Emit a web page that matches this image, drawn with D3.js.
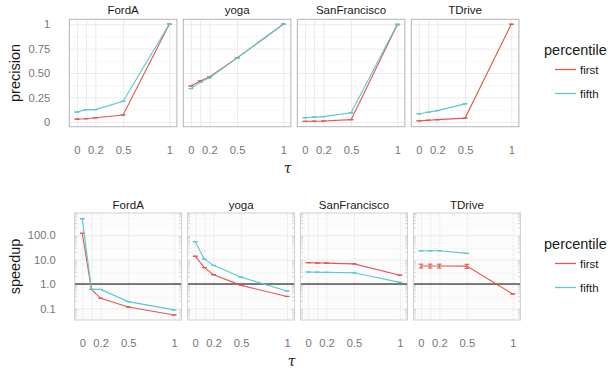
<!DOCTYPE html>
<html>
<head>
<meta charset="utf-8">
<script src="https://cdn.jsdelivr.net/npm/d3@7"></script>
<style>
  html, body { margin: 0; padding: 0; background: #fff; }
  svg { display: block; font-family: "Liberation Sans", Arial, Helvetica, sans-serif; }
</style>
</head>
<body>
<svg id="chart" width="608" height="372"></svg>
<script>
// ---- data ----
const datasets = ["FordA", "yoga", "SanFrancisco", "TDrive"];
const tauValues = [0, 0.1, 0.2, 0.5, 1];
const tauTickValues = [0, 0.2, 0.5, 1];
const percentiles = ["first", "fifth"];
const precisionTicks = [0, 0.25, 0.5, 0.75, 1];
const precisionTickLabels = ["0", "0.25", "0.50", "0.75", "1"];
const speedupTicks = [0.1, 1, 10, 100];
const speedupTickLabels = ["0.1", "1.0", "10.0", "100.0"];

// precision per dataset (rows follow `datasets`, columns follow `tauValues`)
const precisionFirst = [
  [0.028, 0.032, 0.041, 0.070, 1.000],
  [0.367, 0.418, 0.460, 0.655, 1.000],
  [0.005, 0.006, 0.008, 0.022, 0.995],
  [0.010, 0.016, 0.022, 0.038, 1.000]
];
const precisionFifth = [
  [0.100, 0.125, 0.125, 0.210, 1.000],
  [0.340, 0.404, 0.450, 0.652, 1.000],
  [0.041, 0.048, 0.053, 0.092, 1.000],
  [0.082, 0.098, 0.115, 0.184, null]
];

// speedup per dataset
const speedupFirst = [
  [120, 0.60, 0.26, 0.115, 0.054],
  [13.8, 4.7, 2.4, 0.88, 0.31],
  [7.5, 7.3, 7.2, 6.7, 2.3],
  [5.5, 5.5, 5.5, 5.4, 0.39]
];
const speedupFifth = [
  [470, 0.60, 0.60, 0.19, 0.087],
  [54, 10.5, 5.8, 1.9, 0.52],
  [3.1, 3.05, 3.0, 2.9, 1.17],
  [23, 23, 23, 18, null]
];
// spread shown as error bars on speedup
const speedupFirstErr = [
  [0, 0, 0, 0, 0],
  [0, 0, 0, 0, 0],
  [0, 0, 0, 0, 0],
  [1.0, 1.0, 1.0, 1.0, 0]
];
const speedupFifthErr = [
  [0, 0, 0, 0, 0],
  [0, 0, 0, 0, 0],
  [0, 0, 0, 0, 0],
  [0, 0, 0, 0, 0]
];

// ---- styling ----
const colors = { first: "#E2584E", fifth: "#5CC8CF" };
const tickColor = "#767676";
const textColor = "#1a1a1a";
const capHalf = 0.025;           // error-bar cap half width in tau units
const xDomain = [-0.0825, 1.0825];

const svg = d3.select("#chart");

function drawRow(cfg) {
  const { top, bottom, left0, step, width, yScaleMaker, yTicks, yTickLabels,
          first, fifth, firstErr, fifthErr, stripY, xLabelY, tauPos,
          title, legendY, logPanel } = cfg;

  datasets.forEach((name, i) => {
    const x0 = left0 + i * step;
    const x = d3.scaleLinear().domain(xDomain).range([x0, x0 + width]);
    const y = yScaleMaker([bottom, top]);
    const g = svg.append("g");

    // panel background
    g.append("rect").attr("x", x0).attr("y", top)
      .attr("width", width).attr("height", bottom - top)
      .attr("fill", logPanel ? "#fcfcfc" : "#ffffff");

    // minor horizontal grid
    let minor;
    if (logPanel) {
      minor = [0.3, 3, 30, 300].filter(v => y(v) > top && y(v) < bottom);
    } else {
      minor = [0.125, 0.375, 0.625, 0.875];
    }
    g.append("g")
      .attr("transform", `translate(${x0},0)`)
      .call(d3.axisLeft(y).tickValues(minor).tickSize(-width).tickFormat(""))
      .call(a => a.select(".domain").remove())
      .call(a => a.selectAll("line").attr("stroke", "#f2f2f2").attr("stroke-width", 0.6));

    // major horizontal grid
    g.append("g")
      .attr("transform", `translate(${x0},0)`)
      .call(d3.axisLeft(y).tickValues(yTicks).tickSize(-width).tickFormat(""))
      .call(a => a.select(".domain").remove())
      .call(a => a.selectAll("line").attr("stroke", "#ebebeb").attr("stroke-width", 1));

    // vertical grid at the tau values
    g.append("g")
      .attr("transform", `translate(0,${bottom})`)
      .call(d3.axisBottom(x).tickValues(tauValues).tickSize(-(bottom - top)).tickFormat(""))
      .call(a => a.select(".domain").remove())
      .call(a => a.selectAll("line").attr("stroke", "#ebebeb").attr("stroke-width", 1)
        .attr("stroke-dasharray", logPanel ? "3,1" : null));

    // log ticks along the side borders
    if (logPanel) {
      const logMinor = [];
      for (let e = -2; e <= 3; e++) for (let m = 2; m <= 9; m++) logMinor.push(m * Math.pow(10, e));
      const lt = logMinor.filter(v => y(v) > top && y(v) < bottom);
      [x0, x0 + width].forEach((bx, side) => {
        g.append("g").selectAll("line").data(lt).join("line")
          .attr("x1", bx).attr("x2", bx + (side === 0 ? 2.5 : -2.5))
          .attr("y1", d => y(d)).attr("y2", d => y(d))
          .attr("stroke", "#bdbdbd").attr("stroke-width", 0.6);
      });
      // reference line at speedup = 1
      g.append("line")
        .attr("x1", x0).attr("x2", x0 + width)
        .attr("y1", y(1)).attr("y2", y(1))
        .attr("stroke", "#000").attr("stroke-width", 1.1);
    }

    // series
    percentiles.forEach(p => {
      const vals = (p === "first" ? first : fifth)[i];
      const errs = (p === "first" ? firstErr : fifthErr);
      const pts = tauValues.map((t, j) => ({
        t, v: vals[j], e: errs ? errs[i][j] : 0
      })).filter(d => d.v !== null);

      g.append("path").datum(pts)
        .attr("fill", "none").attr("stroke", colors[p]).attr("stroke-width", 1.1)
        .attr("d", d3.line().x(d => x(d.t)).y(d => y(d.v)));

      // error bars with caps
      const eb = g.append("g").attr("stroke", colors[p]).attr("stroke-width", 1.1);
      pts.forEach(d => {
        const lo = y(d.v - d.e), hi = y(d.v + d.e);
        eb.append("line").attr("x1", x(d.t)).attr("x2", x(d.t)).attr("y1", lo).attr("y2", hi);
        [lo, hi].forEach(yy => eb.append("line")
          .attr("x1", x(d.t - capHalf)).attr("x2", x(d.t + capHalf))
          .attr("y1", yy).attr("y2", yy));
      });
    });

    // panel border
    g.append("rect").attr("x", x0).attr("y", top)
      .attr("width", width).attr("height", bottom - top)
      .attr("fill", "none")
      .attr("stroke", logPanel ? "#cfcfcf" : "#b3b3b3").attr("stroke-width", 1);

    // strip title
    g.append("text").attr("x", x0 + width / 2).attr("y", stripY)
      .attr("text-anchor", "middle").attr("dy", "0.35em")
      .attr("font-size", 11.5).attr("fill", textColor).text(name);

    // x tick labels
    g.append("g")
      .attr("transform", `translate(0,${xLabelY})`)
      .call(d3.axisBottom(x).tickValues(tauTickValues).tickSize(0).tickPadding(0)
        .tickFormat(d3.format("")))
      .call(a => a.select(".domain").remove())
      .call(a => a.selectAll("text").attr("dy", "0.35em")
        .attr("font-size", 11.2).attr("fill", tickColor)
        .attr("font-family", "Liberation Sans, Arial, sans-serif"));

    // y tick labels on the first panel
    if (i === 0) {
      g.append("g")
        .attr("transform", `translate(${x0 - 19},0)`)
        .call(d3.axisLeft(y).tickValues(yTicks).tickSize(0).tickPadding(0)
          .tickFormat((d, k) => yTickLabels[k]))
        .call(a => a.select(".domain").remove())
        .call(a => a.selectAll("text")
          .attr("font-size", 11.2).attr("fill", tickColor)
          .attr("font-family", "Liberation Sans, Arial, sans-serif"));
    }
  });

  // y axis title
  svg.append("text")
    .attr("transform", `translate(15,${(top + bottom) / 2}) rotate(-90)`)
    .attr("text-anchor", "middle").attr("dy", "0.35em")
    .attr("font-size", 14.5).attr("fill", textColor).text(title);

  // x axis title
  svg.append("text").attr("x", tauPos[0]).attr("y", tauPos[1])
    .attr("text-anchor", "middle").attr("dy", "0.35em")
    .attr("font-size", 14).attr("font-style", "italic")
    .attr("font-family", "DejaVu Serif, serif")
    .attr("fill", textColor).text("τ");

  // legend
  const lg = svg.append("g");
  lg.append("text").attr("x", 544).attr("y", legendY)
    .attr("dy", "0.35em").attr("font-size", 14.5).attr("fill", textColor)
    .text("percentile");
  percentiles.forEach((p, k) => {
    const ly = legendY + 19.5 + k * 24;
    lg.append("line").attr("x1", 555).attr("x2", 576).attr("y1", ly).attr("y2", ly)
      .attr("stroke", colors[p]).attr("stroke-width", 1.3);
    lg.append("text").attr("x", 580).attr("y", ly).attr("dy", "0.35em")
      .attr("font-size", 11.5).attr("fill", textColor).text(p);
  });
}

// precision row
drawRow({
  top: 19.3, bottom: 126.7, left0: 69.3, step: 114, width: 107.6,
  yScaleMaker: r => d3.scaleLinear().domain([-0.05, 1.05]).range(r),
  yTicks: precisionTicks, yTickLabels: precisionTickLabels,
  first: precisionFirst, fifth: precisionFifth,
  firstErr: null, fifthErr: null,
  stripY: 10, xLabelY: 150, tauPos: [287.5, 168],
  title: "precision", legendY: 50, logPanel: false
});

// speedup row (log scale)
drawRow({
  top: 213, bottom: 320, left0: 74.7, step: 112.9, width: 107,
  yScaleMaker: r => d3.scaleLog().domain([Math.pow(10, -1.475), Math.pow(10, 2.91)]).range(r),
  yTicks: speedupTicks, yTickLabels: speedupTickLabels,
  first: speedupFirst, fifth: speedupFifth,
  firstErr: speedupFirstErr, fifthErr: speedupFifthErr,
  stripY: 205, xLabelY: 343, tauPos: [291.7, 361.5],
  title: "speedup", legendY: 244, logPanel: true
});
</script>
</body>
</html>
